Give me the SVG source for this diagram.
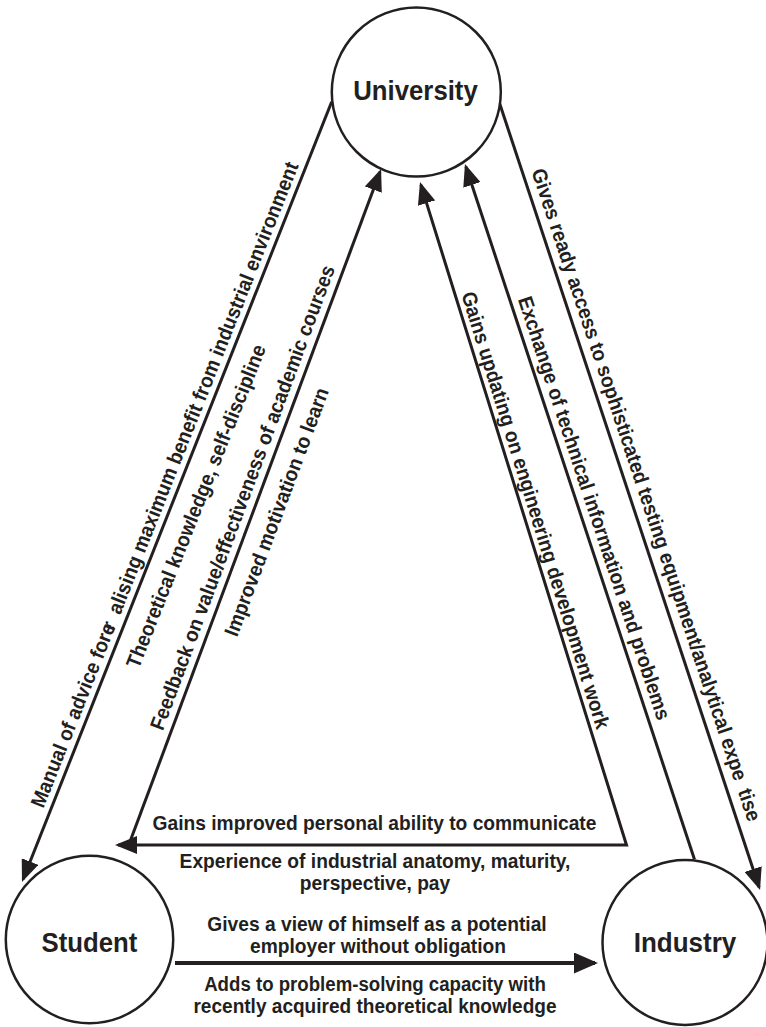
<svg xmlns="http://www.w3.org/2000/svg" width="766" height="1027" viewBox="0 0 766 1027">
<style>
.bg{fill:#ffffff}
.node circle{fill:#ffffff;stroke:#231f20;stroke-width:2.5}
.node text{font-family:"Liberation Sans",Arial,sans-serif;font-weight:bold;font-size:28px;fill:#231f20;text-anchor:middle}
.conn{fill:none;stroke:#231f20;stroke-width:3;stroke-linejoin:miter}
.thick{stroke-width:4}
.lbl{font-family:"Liberation Sans",Arial,sans-serif;font-weight:bold;font-size:20.5px;fill:#231f20;text-anchor:middle}
</style>
<defs>
<marker id="ah" markerUnits="userSpaceOnUse" markerWidth="22" markerHeight="18" viewBox="0 0 22 18" refX="19" refY="9" orient="auto-start-reverse">
<path d="M0,0 L22,9 L0,18 Z" fill="#231f20"/>
</marker>
<marker id="ahb" markerUnits="userSpaceOnUse" markerWidth="24" markerHeight="21" viewBox="0 0 24 21" refX="21" refY="10.5" orient="auto">
<path d="M0,0 L24,10.5 L0,21 Z" fill="#231f20"/>
</marker>
</defs>
<rect class="bg" x="0" y="0" width="766" height="1027"/>
<g id="connectors">
<path id="c-univ-student" class="conn" d="M331.7,101.7 L23.1,879.2" marker-end="url(#ah)"/>
<path id="c-student-univ" class="conn" d="M129.5,843 L380,171.8" marker-end="url(#ah)"/>
<path id="c-industry-univ-student" class="conn" d="M420.9,184.9 L626.5,845 L118,845" marker-start="url(#ah)" marker-end="url(#ah)"/>
<path id="c-industry-univ" class="conn" d="M694.5,859.5 L465.9,166.8" marker-end="url(#ah)"/>
<path id="c-univ-industry" class="conn" d="M499.5,103 L759.1,887.2" marker-end="url(#ah)"/>
<path id="c-student-industry" class="conn thick" d="M175,963 L595,963" marker-end="url(#ahb)"/>
<text class="lbl" transform="translate(171.1,487.2) rotate(-68.35) scale(0.9366,1)">Manual of advice for<tspan>e</tspan><tspan dx="-6">r</tspan><tspan dx="5"> alising</tspan> maximum benefit from industrial environment</text>
<text class="lbl" transform="translate(202.4,508.8) rotate(-68.35) scale(0.9366,1)">Theoretical knowledge, self-discipline</text>
<text class="lbl" transform="translate(249,500) rotate(-69.55) scale(0.9366,1)">Feedback on value/effectiveness of academic courses</text>
<text class="lbl" transform="translate(283.1,514.4) rotate(-69.55) scale(0.9366,1)">Improved motivation to learn</text>
<text class="lbl" transform="translate(528.9,512.2) rotate(72.74) scale(0.9366,1)">Gains updating on engineering development work</text>
<text class="lbl" transform="translate(587.6,510.3) rotate(71.67) scale(0.9366,1)">Exchange of technical information and problems</text>
<text class="lbl" transform="translate(639.7,497) rotate(71.59) scale(0.9366,1)">Gives ready access to sophisticated testing equipment/analytical expe<tspan dx="5"> tise</tspan></text>
<text class="lbl" transform="translate(374.5,830) scale(0.9366,1)">Gains improved personal ability to communicate</text>
<text class="lbl" transform="translate(375,868) scale(0.9366,1)">Experience of industrial anatomy, maturity,</text>
<text class="lbl" transform="translate(375,890) scale(0.9366,1)">perspective, pay</text>
<text class="lbl" transform="translate(377,931) scale(0.9366,1)">Gives a view of himself as a potential</text>
<text class="lbl" transform="translate(378,953) scale(0.9366,1)">employer without obligation</text>
<text class="lbl" transform="translate(375,991) scale(0.91,1)">Adds to problem-solving capacity with</text>
<text class="lbl" transform="translate(375,1013) scale(0.93,1)">recently acquired theoretical knowledge</text>
</g>
<g id="university" class="node">
<circle cx="416.3" cy="92" r="84.5"/>
<text transform="translate(415.5,100) scale(0.92,1)">University</text>
</g>
<g id="student" class="node">
<circle cx="89.5" cy="939.5" r="83.7"/>
<text transform="translate(89.5,952) scale(0.92,1)">Student</text>
</g>
<g id="industry" class="node">
<circle cx="685" cy="942.5" r="82.5"/>
<text transform="translate(685,951.5) scale(0.93,1)">Industry</text>
</g>
</svg>
